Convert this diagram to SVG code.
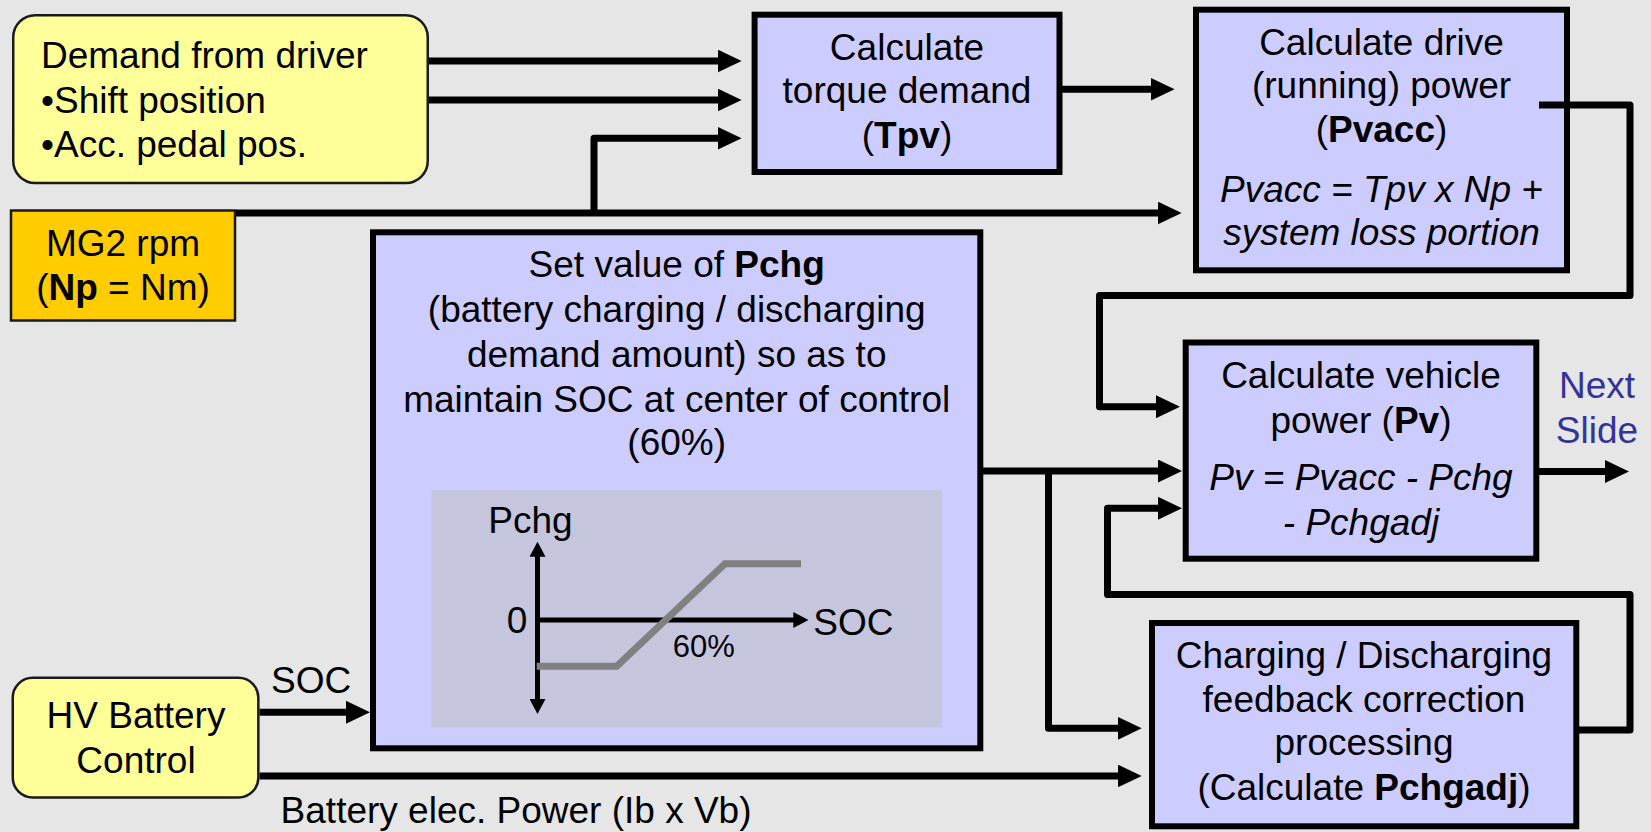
<svg xmlns="http://www.w3.org/2000/svg" width="1651" height="832" viewBox="0 0 1651 832">
<style>
text{font-family:"Liberation Sans",Arial,sans-serif;font-size:37px;fill:#000}
.c{text-anchor:middle}
.b{font-weight:bold}
.i{font-style:italic}
.proc{fill:#CCCCFF;stroke:#000;stroke-width:6}
.soft{fill:#FFFF99;stroke:#1a1a1a;stroke-width:2.5}
.conn{fill:none;stroke:#000;stroke-width:7;stroke-linejoin:round}
.axis{fill:none;stroke:#000;stroke-width:5}
</style>
<defs>
<marker id="ah" markerUnits="userSpaceOnUse" markerWidth="24" markerHeight="23" refX="4" refY="11.5" orient="auto" viewBox="0 0 24 23">
<path d="M0,0 L24,11.5 L0,23 z" fill="#000"/>
</marker>
<marker id="sa" markerUnits="userSpaceOnUse" markerWidth="15" markerHeight="16" refX="3" refY="8" orient="auto-start-reverse" viewBox="0 0 15 16">
<path d="M0,0 L15,8 L0,16 z" fill="#000"/>
</marker>
</defs>
<rect x="0" y="0" width="1651" height="832" fill="#E6E6E6"/>

<g id="demand">
<rect class="soft" x="13.25" y="15.25" width="414.5" height="167.8" rx="22"/>
<text x="41" y="68.3">Demand from driver</text>
<text x="41" y="112.7">•Shift position</text>
<text x="41" y="156.7">•Acc. pedal pos.</text>
</g>

<g id="mg2">
<rect x="11" y="210.5" width="224" height="110" fill="#FFCC00" stroke="#1a1a1a" stroke-width="2.5"/>
<text class="c" x="123" y="256">MG2 rpm</text>
<text class="c" x="123" y="299.5">(<tspan class="b">Np</tspan> = Nm)</text>
</g>

<g id="torque">
<rect class="proc" x="754.6" y="14.7" width="304.9" height="157.3"/>
<text class="c" x="907" y="60">Calculate</text>
<text class="c" x="907" y="103.3">torque demand</text>
<text class="c" x="907" y="148.3">(<tspan class="b">Tpv</tspan>)</text>
</g>

<g id="drive">
<rect class="proc" x="1196" y="9.7" width="371" height="260.6"/>
<text class="c" x="1381.5" y="55">Calculate drive</text>
<text class="c" x="1381.5" y="98.3">(running) power</text>
<text class="c" x="1381.5" y="141.7">(<tspan class="b">Pvacc</tspan>)</text>
<text class="c i" x="1381.5" y="201.7">Pvacc = Tpv x Np +</text>
<text class="c i" x="1381.5" y="245">system loss portion</text>
</g>

<g id="pchg">
<rect class="proc" x="373" y="232.3" width="607.3" height="516"/>
<text class="c" x="676.7" y="277.3">Set value of <tspan class="b">Pchg</tspan></text>
<text class="c" x="676.7" y="321.7">(battery charging / discharging</text>
<text class="c" x="676.7" y="366.7">demand amount) so as to</text>
<text class="c" x="676.7" y="411.7">maintain SOC at center of control</text>
<text class="c" x="676.7" y="455">(60%)</text>
<rect x="431.5" y="490" width="510.5" height="237.3" fill="#C5C5DD"/>
<path class="axis" d="M537.5,553.7 V702" marker-start="url(#sa)" marker-end="url(#sa)"/>
<path class="axis" d="M537.5,620 H796.3" marker-end="url(#sa)"/>
<polyline points="536.7,666.3 616.7,666.3 725,563.7 801,563.7" fill="none" stroke="#808080" stroke-width="7"/>
<text x="488.3" y="533.3">Pchg</text>
<text x="506.7" y="632.7">0</text>
<text x="813.3" y="635.3">SOC</text>
<text x="672.7" y="656.7" style="font-size:31px">60%</text>
</g>

<g id="vehicle">
<rect class="proc" x="1185.7" y="342.5" width="350.6" height="216.2"/>
<text class="c" x="1361" y="387.7">Calculate vehicle</text>
<text class="c" x="1361" y="433.3">power (<tspan class="b">Pv</tspan>)</text>
<text class="c i" x="1361" y="490">Pv = Pvacc - Pchg</text>
<text class="c i" x="1361" y="535">- Pchgadj</text>
</g>

<g id="charging">
<rect class="proc" x="1152" y="623" width="424.3" height="203.3"/>
<text class="c" x="1364" y="668.3">Charging / Discharging</text>
<text class="c" x="1364" y="711.7">feedback correction</text>
<text class="c" x="1364" y="755">processing</text>
<text class="c" x="1364" y="800">(Calculate <tspan class="b">Pchgadj</tspan>)</text>
</g>

<g id="hv">
<rect class="soft" x="12.75" y="677.85" width="245.6" height="119.7" rx="20"/>
<text class="c" x="136" y="727.6">HV Battery</text>
<text class="c" x="136" y="773.4">Control</text>
</g>

<g id="next">
<text class="c" x="1597" y="398.3" style="fill:#333399">Next</text>
<text class="c" x="1597" y="443.3" style="fill:#333399">Slide</text>
</g>

<g id="connectors">
<path class="conn" d="M429,61 H721.6" marker-end="url(#ah)"/>
<path class="conn" d="M429,100 H721.6" marker-end="url(#ah)"/>
<path class="conn" d="M594,213 V138.3 H721.6" marker-end="url(#ah)"/>
<path class="conn" d="M236,213 H1161.6" marker-end="url(#ah)"/>
<path class="conn" d="M1062,89.3 H1154.6" marker-end="url(#ah)"/>
<path class="conn" d="M1539,105 H1630 V295.5 H1099.5 V406.7 H1160" marker-end="url(#ah)"/>
<path class="conn" d="M983,471 H1162" marker-end="url(#ah)"/>
<path class="conn" d="M1048.5,471 V728.3 H1121.7" marker-end="url(#ah)"/>
<path class="conn" d="M259.6,776 H1121.7" marker-end="url(#ah)"/>
<path class="conn" d="M259.6,712.3 H350" marker-end="url(#ah)"/>
<path class="conn" d="M1579,730 H1630 V594.5 H1107.5 V508.3 H1162" marker-end="url(#ah)"/>
<path class="conn" d="M1539,471.5 H1609" marker-end="url(#ah)"/>
</g>
<text x="271" y="693">SOC</text>
<text x="280.6" y="822.6">Battery elec. Power (Ib x Vb)</text>
</svg>
